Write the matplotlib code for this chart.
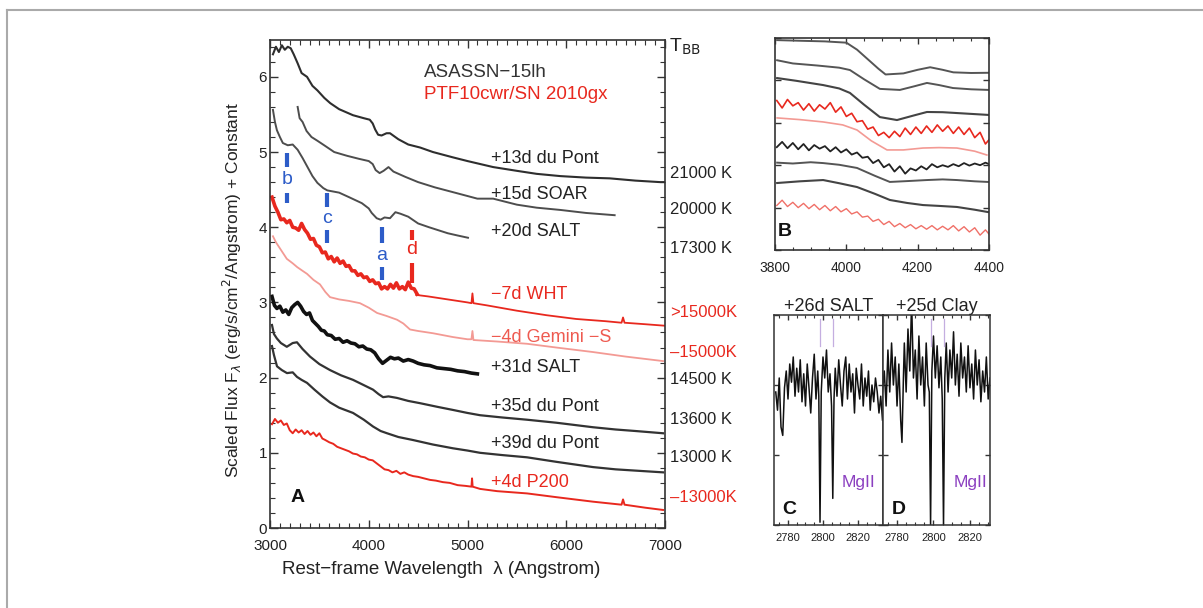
import numpy as np
import matplotlib

matplotlib.use('Agg')
import matplotlib.pyplot as plt
from matplotlib.ticker import MultipleLocator, NullFormatter
from matplotlib.lines import Line2D

plt.rcParams['font.family'] = ['Liberation Sans', 'DejaVu Sans']

DARK = '#222222'
RED = '#e8281e'
PINK = '#f39a94'
BLUE = '#2d5cc8'
PURPLE = '#8b3fc0'

# ============================================================
# Panel A spectra (wavelength [A], scaled flux + constant)
# ============================================================
w13 = [3030, 3060, 3090, 3120, 3150, 3180, 3210, 3240, 3280, 3320, 3375, 3430, 3480, 3550, 3610,
       3700, 3840, 3950, 4010, 4040, 4065, 4095, 4130, 4180, 4215, 4300, 4400, 4520, 4650, 4850,
       5000, 5130, 5260, 5500, 5700, 5940, 6200, 6440, 6700, 6950, 7000]
f13 = [6.30, 6.40, 6.33, 6.42, 6.36, 6.40, 6.38, 6.30, 6.18, 6.05, 6.00, 5.88, 5.82, 5.72, 5.65,
       5.57, 5.49, 5.45, 5.43, 5.38, 5.30, 5.23, 5.22, 5.25, 5.25, 5.17, 5.10, 5.06, 5.00, 4.93,
       4.88, 4.84, 4.80, 4.75, 4.71, 4.68, 4.66, 4.65, 4.62, 4.60, 4.60]

w15 = [3280, 3300, 3330, 3370, 3420, 3480, 3560, 3650, 3780, 3900, 4000, 4040, 4070, 4110, 4150,
       4200, 4250, 4370, 4500, 4670, 4900, 5100, 5260, 5500, 5700, 5940, 6200, 6490]
f15 = [5.60, 5.45, 5.40, 5.28, 5.20, 5.15, 5.08, 5.00, 4.95, 4.91, 4.88, 4.84, 4.76, 4.72, 4.75,
       4.80, 4.74, 4.67, 4.60, 4.53, 4.45, 4.38, 4.38, 4.30, 4.26, 4.23, 4.19, 4.16]

w20 = [3030, 3050, 3070, 3100, 3130, 3180, 3230, 3280, 3330, 3380, 3430, 3480, 3540, 3580, 3700,
       3800, 3930, 4000, 4030, 4080, 4120, 4160, 4215, 4270, 4320, 4400, 4500, 4610, 4800, 4900, 5005]
f20 = [5.56, 5.40, 5.29, 5.20, 5.12, 5.09, 5.10, 5.03, 4.92, 4.80, 4.68, 4.59, 4.52, 4.49, 4.46,
       4.40, 4.32, 4.25, 4.19, 4.12, 4.10, 4.13, 4.12, 4.20, 4.18, 4.14, 4.05, 4.00, 3.92, 3.89, 3.86]

# -7d WHT: noisy blue part + smoother red part
w7a = [3020, 3050, 3080, 3110, 3140, 3170, 3200, 3230, 3260, 3290, 3320, 3350, 3380, 3410, 3440,
       3470, 3500, 3530, 3560, 3590, 3620, 3650, 3680, 3710, 3740, 3770, 3800, 3830, 3860, 3890,
       3920, 3950, 3980, 4010, 4040, 4070, 4100, 4130, 4160, 4190, 4220, 4250, 4280, 4310, 4340,
       4370, 4400, 4430, 4460, 4490]
f7a = [4.40, 4.28, 4.20, 4.10, 4.11, 4.06, 4.09, 4.00, 3.99, 3.96, 4.05, 3.97, 3.92, 3.84, 3.85,
       3.76, 3.74, 3.66, 3.67, 3.58, 3.61, 3.54, 3.59, 3.52, 3.55, 3.48, 3.49, 3.42, 3.42, 3.36,
       3.38, 3.33, 3.34, 3.28, 3.30, 3.25, 3.26, 3.18, 3.21, 3.18, 3.24, 3.19, 3.26, 3.18, 3.21,
       3.17, 3.27, 3.19, 3.18, 3.11]
w7b = [4480, 4600, 4800, 5000, 5040, 5050, 5060, 5200, 5500, 5800, 6100, 6400, 6560, 6575, 6590, 6800, 7000]
f7b = [3.10, 3.08, 3.04, 3.00, 2.99, 3.12, 2.99, 2.96, 2.89, 2.83, 2.78, 2.75, 2.73, 2.80, 2.73, 2.71, 2.69]

w4g = [3030, 3060, 3100, 3170, 3230, 3275, 3330, 3375, 3440, 3506, 3560, 3608, 3700, 3800, 3911,
       4000, 4084, 4180, 4286, 4350, 4418, 4500, 4651, 4850, 5000, 5040, 5050, 5060, 5300, 5603,
       5900, 6271, 6600, 6980]
f4g = [3.88, 3.80, 3.72, 3.58, 3.52, 3.47, 3.42, 3.38, 3.30, 3.24, 3.14, 3.07, 3.04, 3.02, 2.99,
       2.93, 2.86, 2.82, 2.77, 2.72, 2.64, 2.62, 2.59, 2.54, 2.51, 2.51, 2.62, 2.50, 2.48, 2.45,
       2.40, 2.34, 2.28, 2.22]

w31 = [3020, 3045, 3070, 3100, 3130, 3160, 3190, 3220, 3250, 3280, 3310, 3340, 3370, 3400, 3430,
       3460, 3490, 3520, 3550, 3580, 3620, 3660, 3700, 3740, 3780, 3820, 3860, 3900, 3940, 3980,
       4020, 4060, 4100, 4140, 4180, 4220, 4260, 4300, 4350, 4400, 4450, 4500, 4560, 4620, 4690,
       4760, 4830, 4900, 4970, 5040, 5100]
f31 = [3.08, 2.96, 2.92, 2.95, 2.87, 2.90, 2.84, 2.93, 2.97, 3.00, 2.95, 2.88, 2.84, 2.86, 2.76,
       2.72, 2.68, 2.63, 2.62, 2.57, 2.56, 2.51, 2.52, 2.47, 2.49, 2.46, 2.45, 2.41, 2.42, 2.38,
       2.37, 2.33, 2.25, 2.19, 2.23, 2.27, 2.25, 2.26, 2.22, 2.24, 2.22, 2.19, 2.17, 2.16, 2.13,
       2.12, 2.11, 2.09, 2.08, 2.06, 2.05]

w35 = [3020, 3040, 3070, 3110, 3170, 3230, 3273, 3330, 3405, 3500, 3608, 3720, 3841, 3950, 4043,
       4100, 4145, 4200, 4286, 4400, 4519, 4700, 4853, 5000, 5127, 5350, 5603, 5900, 6271, 6500,
       6700, 6980]
f35 = [2.70, 2.58, 2.52, 2.46, 2.41, 2.46, 2.47, 2.38, 2.28, 2.18, 2.10, 2.03, 1.97, 1.90, 1.84,
       1.78, 1.74, 1.75, 1.73, 1.69, 1.66, 1.61, 1.57, 1.53, 1.50, 1.47, 1.44, 1.40, 1.34, 1.31,
       1.29, 1.26]

w39 = [3020, 3040, 3071, 3120, 3172, 3230, 3273, 3320, 3375, 3450, 3530, 3608, 3700, 3841, 3950,
       4043, 4120, 4185, 4300, 4448, 4650, 4853, 5000, 5127, 5350, 5603, 5900, 6271, 6500, 6980]
f39 = [2.42, 2.30, 2.15, 2.10, 2.06, 2.07, 2.01, 1.97, 1.93, 1.84, 1.75, 1.67, 1.60, 1.53, 1.44,
       1.35, 1.29, 1.26, 1.21, 1.17, 1.11, 1.06, 1.03, 1.00, 0.97, 0.94, 0.88, 0.81, 0.78, 0.74]

wp2 = [3020, 3050, 3080, 3110, 3140, 3170, 3200, 3230, 3260, 3290, 3320, 3350, 3380, 3410, 3440,
       3470, 3500, 3530, 3560, 3600, 3640, 3680, 3720, 3760, 3800, 3840, 3880, 3920, 3960, 4000,
       4040, 4080, 4120, 4160, 4200, 4240, 4280, 4320, 4360, 4400, 4450, 4500, 4560, 4620, 4680,
       4750, 4820, 4900, 4980, 5040, 5046, 5052, 5127, 5300, 5603, 5900, 6271, 6560, 6575, 6590,
       6800, 6980]
fp2 = [1.38, 1.45, 1.40, 1.43, 1.37, 1.39, 1.30, 1.26, 1.31, 1.27, 1.30, 1.25, 1.29, 1.24, 1.27,
       1.22, 1.26, 1.19, 1.17, 1.14, 1.12, 1.08, 1.06, 1.04, 1.02, 0.99, 0.98, 0.95, 0.94, 0.91,
       0.90, 0.86, 0.82, 0.78, 0.77, 0.74, 0.76, 0.72, 0.74, 0.71, 0.69, 0.68, 0.66, 0.64, 0.63,
       0.61, 0.60, 0.57, 0.56, 0.55, 0.66, 0.55, 0.52, 0.49, 0.46, 0.41, 0.35, 0.31, 0.38, 0.31,
       0.27, 0.24]

# spectrum labels and blackbody temperatures
spec_labels = ['+13d du Pont', '+15d SOAR', '+20d SALT', '\u22127d WHT', '\u22124d Gemini \u2212S',
               '+31d SALT', '+35d du Pont', '+39d du Pont', '+4d P200']
spec_label_y = [4.92, 4.43, 3.94, 3.10, 2.54, 2.13, 1.61, 1.13, 0.61]
spec_label_c = [DARK, DARK, DARK, RED, '#ee5a50', DARK, DARK, DARK, RED]
tbb_labels = ['21000 K', '20000 K', '17300 K', '>15000K', '\u201315000K',
              '14500 K', '13600 K', '13000 K', '\u201313000K']
tbb_y = [4.72, 4.23, 3.72, 2.87, 2.34, 1.97, 1.44, 0.94, 0.40]
tbb_c = [DARK, DARK, DARK, RED, RED, DARK, DARK, DARK, RED]

# line markers a-d: (letter, wavelength, upper bar, letter y, lower bar, colour)
markers = [('b', 3172, (4.80, 4.99), 4.63, (4.32, 4.46), BLUE),
           ('c', 3577, (4.27, 4.45), 4.12, (3.79, 3.96), BLUE),
           ('a', 4134, (3.79, 4.00), 3.63, (3.30, 3.47), BLUE),
           ('d', 4438, (3.83, 3.96), 3.70, (3.26, 3.52), RED)]

# ============================================================
# Panel B (zoom 3800-4400 A)
# ============================================================
wb1 = [3806, 3870, 3940, 4000, 4030, 4060, 4090, 4110, 4160, 4200, 4235, 4270, 4300, 4350, 4400]
fb1 = [9.90, 9.87, 9.84, 9.78, 9.45, 9.00, 8.55, 8.28, 8.33, 8.50, 8.62, 8.50, 8.38, 8.35, 8.36]
wb2 = [3806, 3850, 3920, 3980, 4010, 4050, 4094, 4150, 4190, 4226, 4260, 4299, 4350, 4400]
fb2 = [8.95, 8.80, 8.70, 8.60, 8.49, 8.05, 7.60, 7.55, 7.72, 7.88, 7.78, 7.64, 7.58, 7.55]
wb3 = [3806, 3860, 3935, 3980, 4010, 4050, 4094, 4142, 4190, 4226, 4270, 4310, 4400]
fb3 = [8.11, 7.98, 7.78, 7.62, 7.41, 6.85, 6.27, 6.13, 6.35, 6.51, 6.50, 6.46, 6.37]
wb_noise = [3805, 3820, 3835, 3850, 3865, 3880, 3895, 3910, 3925, 3940, 3955, 3970, 3985, 4000,
            4015, 4030, 4045, 4060, 4075, 4090, 4105, 4120, 4135, 4150, 4165, 4180, 4195, 4210,
            4225, 4240, 4255, 4270, 4285, 4300, 4315, 4330, 4345, 4360, 4375, 4390, 4400]
fb4 = [7.05, 6.70, 7.10, 6.80, 6.95, 6.60, 6.90, 6.55, 6.85, 6.65, 6.95, 6.50, 6.75, 6.30,
       6.45, 6.05, 6.10, 5.70, 5.80, 5.40, 5.55, 5.30, 5.60, 5.35, 5.75, 5.45, 5.80, 5.50,
       5.85, 5.55, 5.90, 5.60, 5.85, 5.50, 5.80, 5.45, 5.75, 5.30, 5.55, 5.00, 5.20]
wb5 = [3806, 3870, 3935, 3990, 4030, 4070, 4114, 4160, 4215, 4260, 4310, 4360, 4394]
fb5 = [6.23, 6.15, 6.04, 5.90, 5.66, 5.15, 4.72, 4.72, 4.81, 4.83, 4.81, 4.66, 4.48]
fb6 = [4.85, 5.10, 4.80, 5.05, 4.75, 5.00, 4.70, 4.95, 4.78, 4.90, 4.65, 4.85, 4.60, 4.75,
       4.50, 4.60, 4.35, 4.40, 4.10, 4.25, 3.90, 4.05, 3.70, 3.95, 3.60, 3.85, 3.75, 3.95,
       3.80, 4.05, 3.90, 4.00, 3.92, 4.05, 3.95, 4.10, 3.98, 4.08, 4.00, 4.12, 4.05]
wb7 = [3806, 3850, 3900, 3935, 3980, 4030, 4080, 4122, 4170, 4226, 4270, 4310, 4360, 4397]
fb7 = [4.12, 4.08, 4.14, 4.10, 4.02, 3.87, 3.50, 3.21, 3.25, 3.30, 3.33, 3.30, 3.24, 3.21]
wb8 = [3806, 3870, 3935, 3980, 4030, 4080, 4122, 4170, 4215, 4260, 4310, 4360, 4397]
fb8 = [3.16, 3.24, 3.30, 3.15, 2.97, 2.65, 2.36, 2.22, 2.12, 2.08, 2.03, 1.90, 1.79]
fb9 = [2.10, 2.35, 2.05, 2.25, 2.00, 2.20, 1.95, 2.15, 1.90, 2.10, 1.85, 2.05, 1.80, 1.95,
       1.70, 1.80, 1.55, 1.60, 1.35, 1.45, 1.20, 1.35, 1.10, 1.25, 1.05, 1.20, 1.00, 1.15,
       0.98, 1.15, 0.95, 1.12, 0.95, 1.15, 0.90, 1.10, 0.85, 1.05, 0.70, 0.95, 0.75]

# ============================================================
# Panels C / D (MgII doublet, normalised flux)
# ============================================================
wc = [2773, 2774, 2775, 2776, 2777, 2778, 2779, 2780, 2781, 2782, 2783, 2784, 2785, 2786, 2787,
      2788, 2789, 2790, 2791, 2792, 2793, 2794, 2795, 2796, 2797, 2797.6, 2798.3, 2799, 2800, 2801,
      2802, 2803, 2804, 2804.9, 2805.6, 2806.3, 2807, 2808, 2809, 2810, 2811, 2812, 2813, 2814,
      2815, 2816, 2817, 2818, 2819, 2820, 2821, 2822, 2823, 2824, 2825, 2826, 2827, 2828, 2829,
      2830, 2831, 2832, 2833, 2834]
fc = [0.95, 0.82, 1.05, 0.70, 0.64, 0.98, 1.10, 0.90, 1.15, 1.02, 1.20, 0.92, 1.12, 0.95, 1.18,
      0.88, 1.08, 0.85, 1.15, 0.98, 0.80, 1.05, 1.22, 0.90, 1.10, 0.92, 0.02, 0.95, 1.20, 1.05,
      1.25, 0.95, 1.08, 0.85, 0.19, 0.90, 1.12, 0.92, 1.18, 1.00, 0.85, 1.10, 1.20, 0.90,
      1.15, 0.95, 1.08, 0.80, 1.12, 1.00, 0.90, 1.15, 0.85, 1.05, 0.92, 1.10, 0.82, 1.00, 0.88,
      1.05, 0.95, 0.80, 0.92, 0.75]
wd = [2772, 2773, 2774, 2775, 2776, 2777, 2778, 2779, 2780, 2781, 2782, 2782.7, 2783.5, 2784,
      2785, 2786, 2787, 2788, 2789, 2790, 2791, 2792, 2793, 2794, 2795, 2796, 2797, 2797.7,
      2798.4, 2799.1, 2800, 2801, 2802, 2803, 2804, 2804.8, 2805.5, 2806.2, 2807, 2808, 2809,
      2810, 2811, 2812, 2813, 2814, 2815, 2816, 2817, 2818, 2819, 2820, 2821, 2822, 2823, 2824,
      2825, 2826, 2827, 2828, 2829, 2830, 2831]
fd = [0.95, 1.10, 0.85, 1.25, 0.95, 1.30, 1.00, 1.20, 0.85, 1.15, 0.75, 0.59, 1.05, 1.30,
      0.95, 1.40, 1.10, 1.60, 1.05, 1.25, 0.90, 1.35, 1.00, 1.20, 0.85, 1.30, 1.00, 0.95,
      0.00, 1.10, 1.35, 1.05, 1.28, 0.98, 1.20, 0.90, 0.00, 1.05, 1.30, 0.95, 1.25,
      1.05, 1.38, 1.00, 1.22, 0.92, 1.30, 1.05, 1.20, 0.95, 1.28, 0.98, 1.15, 0.90, 1.25, 1.00,
      1.18, 0.88, 1.10, 0.95, 1.20, 0.90, 1.05]
mg_c = [2798.3, 2805.6]
mg_d = [2798.4, 2805.5]

# ============================================================
# Figure
# ============================================================
W, H = 1203, 608
fig = plt.figure(figsize=(W / 100, H / 100), dpi=100)


def px_axes(l, t, r, b):
    return fig.add_axes([l / W, 1 - b / H, (r - l) / W, (b - t) / H])


def style(ax, lw=1.2):
    for s in ax.spines.values():
        s.set_linewidth(lw)
        s.set_color('#333333')
    ax.tick_params(which='both', direction='in', top=True, right=True, colors='#333333',
                   labelcolor=DARK)
    ax.tick_params(which='major', length=6, width=1)
    ax.tick_params(which='minor', length=3.5, width=0.8)


# frame lines of the page
fig.add_artist(Line2D([7 / W, 1], [1 - 10 / H, 1 - 10 / H], color='#aaaaaa', lw=1.5))
fig.add_artist(Line2D([7 / W, 7 / W], [0, 1 - 10 / H], color='#aaaaaa', lw=1.5))

# ---------------- Panel A ----------------
axA = px_axes(270, 40, 665, 528)
style(axA)
axA.plot(w13, f13, color='#2e2e2e', lw=1.5)
axA.plot(w15, f15, color='#4d4d4d', lw=1.4)
axA.plot(w20, f20, color='#4d4d4d', lw=1.4)
axA.plot(w7a, f7a, color=RED, lw=2.6)
axA.plot(w7b, f7b, color=RED, lw=1.3)
axA.plot(w4g, f4g, color=PINK, lw=1.3)
axA.plot(w31, f31, color='#111111', lw=2.6)
axA.plot(w35, f35, color='#333333', lw=1.6)
axA.plot(w39, f39, color='#333333', lw=1.6)
axA.plot(wp2, fp2, color=RED, lw=1.4)

for lab, wl, up, ly, lo, col in markers:
    axA.plot([wl, wl], up, color=col, lw=3, solid_capstyle='butt')
    axA.plot([wl, wl], lo, color=col, lw=3, solid_capstyle='butt')
    axA.text(wl, ly, lab, color=col, fontsize=14, ha='center', va='center')

for lab, y, c in zip(spec_labels, spec_label_y, spec_label_c):
    axA.text(5240, y, lab, color=c, fontsize=13, ha='left', va='center')
for lab, y, c in zip(tbb_labels, tbb_y, tbb_c):
    axA.text(7050, y, lab, color=c, fontsize=12, ha='left', va='center', clip_on=False)
axA.text(7040, 6.40, r'T$_{\rm BB}$', color=DARK, fontsize=14, ha='left', va='center', clip_on=False)

axA.text(4560, 6.06, 'ASASSN\u221215lh', color='#333333', fontsize=13.5, ha='left', va='center')
axA.text(4560, 5.76, 'PTF10cwr/SN 2010gx', color=RED, fontsize=13.5, ha='left', va='center')
axA.text(3284, 0.40, 'A', color='#111111', fontsize=14, weight='bold', ha='center', va='center')

axA.set_xlim(3000, 7000)
axA.set_ylim(0, 6.49)
axA.xaxis.set_major_locator(MultipleLocator(1000))
axA.xaxis.set_minor_locator(MultipleLocator(100))
axA.yaxis.set_major_locator(MultipleLocator(1))
axA.yaxis.set_minor_locator(MultipleLocator(0.2))
axA.tick_params(axis='x', labelsize=11, pad=8)
axA.tick_params(axis='y', labelsize=11, pad=2)

fig.text(441 / W, 1 - 570 / H, 'Rest\u2212frame Wavelength  \u03bb (Angstrom)', fontsize=13.5,
         ha='center', va='center', color=DARK)
fig.text(232 / W, 1 - 290 / H,
         r'Scaled Flux F$_\lambda$ (erg/s/cm$^2$/Angstrom) + Constant', fontsize=12.5,
         rotation=90, ha='center', va='center', color=DARK)

# ---------------- Panel B ----------------
axB = px_axes(775, 38, 989, 250)
style(axB)
axB.plot(wb1, fb1, color='#555555', lw=1.4)
axB.plot(wb2, fb2, color='#555555', lw=1.4)
axB.plot(wb3, fb3, color='#444444', lw=1.5)
axB.plot(wb_noise, fb4, color=RED, lw=1.2)
axB.plot(wb5, fb5, color=PINK, lw=1.2)
axB.plot(wb_noise, fb6, color='#222222', lw=1.3)
axB.plot(wb7, fb7, color='#555555', lw=1.4)
axB.plot(wb8, fb8, color='#444444', lw=1.5)
axB.plot(wb_noise, fb9, color='#f07068', lw=1.0)
axB.text(3828, 0.85, 'B', color='#111111', fontsize=14, weight='bold', ha='center', va='center')
axB.set_xlim(3800, 4400)
axB.set_ylim(0, 10)
axB.xaxis.set_major_locator(MultipleLocator(200))
axB.xaxis.set_minor_locator(MultipleLocator(50))
axB.yaxis.set_major_locator(MultipleLocator(2))
axB.yaxis.set_major_formatter(NullFormatter())
axB.tick_params(which='major', length=4)
axB.tick_params(which='minor', length=2.5)
axB.tick_params(axis='x', labelsize=10, pad=8)

# ---------------- Panels C / D ----------------
axC = px_axes(774, 315, 883, 525)
axD = px_axes(883, 315, 990, 525)
for ax, w, f, mg, lab, title, xl in [(axC, wc, fc, mg_c, 'C', '+26d SALT', (2772, 2834.3)),
                                      (axD, wd, fd, mg_d, 'D', '+25d Clay', (2772.3, 2831))]:
    style(ax, lw=1.1)
    ax.plot(w, f, color='#111111', lw=1.1)
    for m in mg:
        ax.plot([m, m], [1.28, 1.47], color='#c4aee0', lw=0.9)
    ax.text(2820.5, 0.30, 'MgII', color=PURPLE, fontsize=12.5, ha='center', va='center')
    ax.text(2781, 0.11, lab, color='#111111', fontsize=14, weight='bold', ha='center', va='center')
    ax.set_title(title, fontsize=13, color=DARK, pad=2)
    ax.set_xlim(*xl)
    ax.set_ylim(0, 1.5)
    ax.xaxis.set_major_locator(MultipleLocator(20))
    ax.xaxis.set_minor_locator(MultipleLocator(5))
    ax.yaxis.set_major_locator(MultipleLocator(0.5))
    ax.yaxis.set_major_formatter(NullFormatter())
    ax.tick_params(which='major', length=3.5)
    ax.tick_params(which='minor', length=2)
    ax.tick_params(axis='x', labelsize=8, pad=6)

fig.savefig('out.png', dpi=100, facecolor='white')
